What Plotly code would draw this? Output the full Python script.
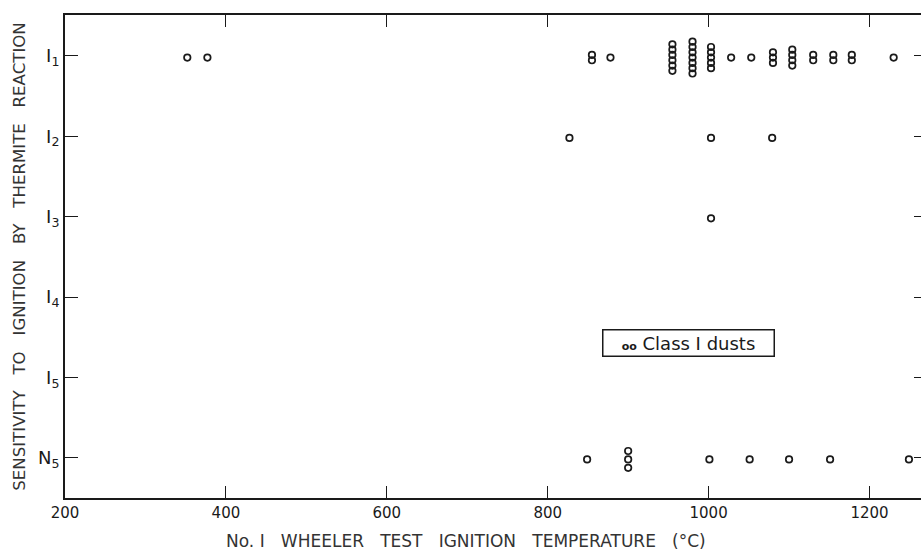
import plotly.graph_objects as go

# ---- data ----
categories = ["I1", "I2", "I3", "I4", "I5", "N5"]
tick_labels = ["Ⅰ<sub>1</sub>", "Ⅰ<sub>2</sub>", "Ⅰ<sub>3</sub>", "Ⅰ<sub>4</sub>", "Ⅰ<sub>5</sub>", "N<sub>5</sub>"]
x_ticks = [200, 400, 600, 800, 1000, 1200]

# ignition temperatures (°C) for each sensitivity class; repeated values are stacked dusts
temps_I1 = [352, 377, 855, 855, 878,
            955, 955, 955, 955, 955, 955,
            980, 980, 980, 980, 980, 980, 980,
            1003, 1003, 1003, 1003, 1003,
            1028, 1053,
            1080, 1080, 1080,
            1104, 1104, 1104, 1104,
            1130, 1130, 1155, 1155, 1178, 1178, 1230]
temps_I2 = [827, 1003, 1079]
temps_I3 = [1003]
temps_I4 = []
temps_I5 = []
temps_N5 = [849, 900, 900, 900, 1001, 1051, 1100, 1151, 1249]

rows = [temps_I1, temps_I2, temps_I3, temps_I4, temps_I5, temps_N5]
stack_gap = [0.066, 0.08, 0.08, 0.08, 0.08, 0.105]

# build stacked point positions (identical temperatures are stacked vertically)
xs, ys = [], []
for ci, temps in enumerate(rows):
    pos = ci + 1
    counts = {}
    for t in temps:
        counts[t] = counts.get(t, 0) + 1
    seen = {}
    for t in temps:
        k = seen.get(t, 0)
        seen[t] = k + 1
        n = counts[t]
        xs.append(t)
        ys.append(pos + 0.02 + (k - (n - 1) / 2) * stack_gap[ci])

FONT = "DejaVu Sans"
INK = "#1a1a1a"

fig = go.Figure()
fig.add_trace(go.Scatter(
    x=xs, y=ys, mode="markers", name="Class Ⅰ dusts", showlegend=False,
    marker=dict(symbol="circle-open", size=6.5, color=INK, line=dict(width=1.7)),
))
# invisible helper trace so the right-hand tick axis is drawn
fig.add_trace(go.Scatter(x=[x_ticks[0]], y=[1], yaxis="y2", mode="markers",
                         marker=dict(opacity=0), showlegend=False, hoverinfo="skip"))

yvals = list(range(1, len(categories) + 1))
fig.update_layout(
    width=921, height=554,
    margin=dict(l=65, r=0, t=15, b=56),
    paper_bgcolor="white", plot_bgcolor="white",
    font=dict(family=FONT, color=INK, size=15),
    xaxis=dict(
        range=[200, 1264], tickvals=x_ticks, ticktext=[str(v) for v in x_ticks],
        showgrid=False, zeroline=False,
        showline=True, linecolor=INK, linewidth=2, mirror="ticks",
        ticks="inside", ticklen=12, tickwidth=1.2, tickcolor=INK,
        tickfont=dict(size=15, family=FONT, color=INK),
    ),
    yaxis=dict(
        range=[6.5, 0.49], tickvals=yvals, ticktext=tick_labels,
        showgrid=False, zeroline=False,
        showline=True, linecolor=INK, linewidth=2,
        ticks="inside", ticklen=13, tickwidth=1.2, tickcolor=INK,
        tickfont=dict(size=18, family=FONT, color=INK),
        title=dict(text="SENSITIVITY   TO   IGNITION   BY   THERMITE   REACTION",
                   font=dict(size=16.6, family=FONT, color="#333"), standoff=8),
    ),
    yaxis2=dict(
        overlaying="y", side="right", range=[6.5, 0.49], tickvals=yvals,
        showticklabels=False, showgrid=False, zeroline=False, showline=False,
        ticks="inside", ticklen=7, tickwidth=1.4, tickcolor=INK,
    ),
    annotations=[
        dict(text="No. Ⅰ   WHEELER   TEST   IGNITION   TEMPERATURE   (°C)",
             xref="paper", yref="paper", x=0.468, y=-0.089, yanchor="middle",
             showarrow=False, font=dict(size=17, family=FONT, color="#333")),
        dict(text="<span style='font-size:11px'><b>oo</b></span> Class Ⅰ dusts",
             xref="paper", yref="paper", x=0.728, y=0.321,
             xanchor="center", yanchor="middle", showarrow=False,
             bordercolor=INK, borderwidth=1.5, borderpad=2, bgcolor="white",
             width=166, font=dict(size=18, family=FONT, color=INK)),
    ],
)

fig.write_html("out.html", config={"displayModeBar": False},
               post_script="document.body.style.margin='0';")
